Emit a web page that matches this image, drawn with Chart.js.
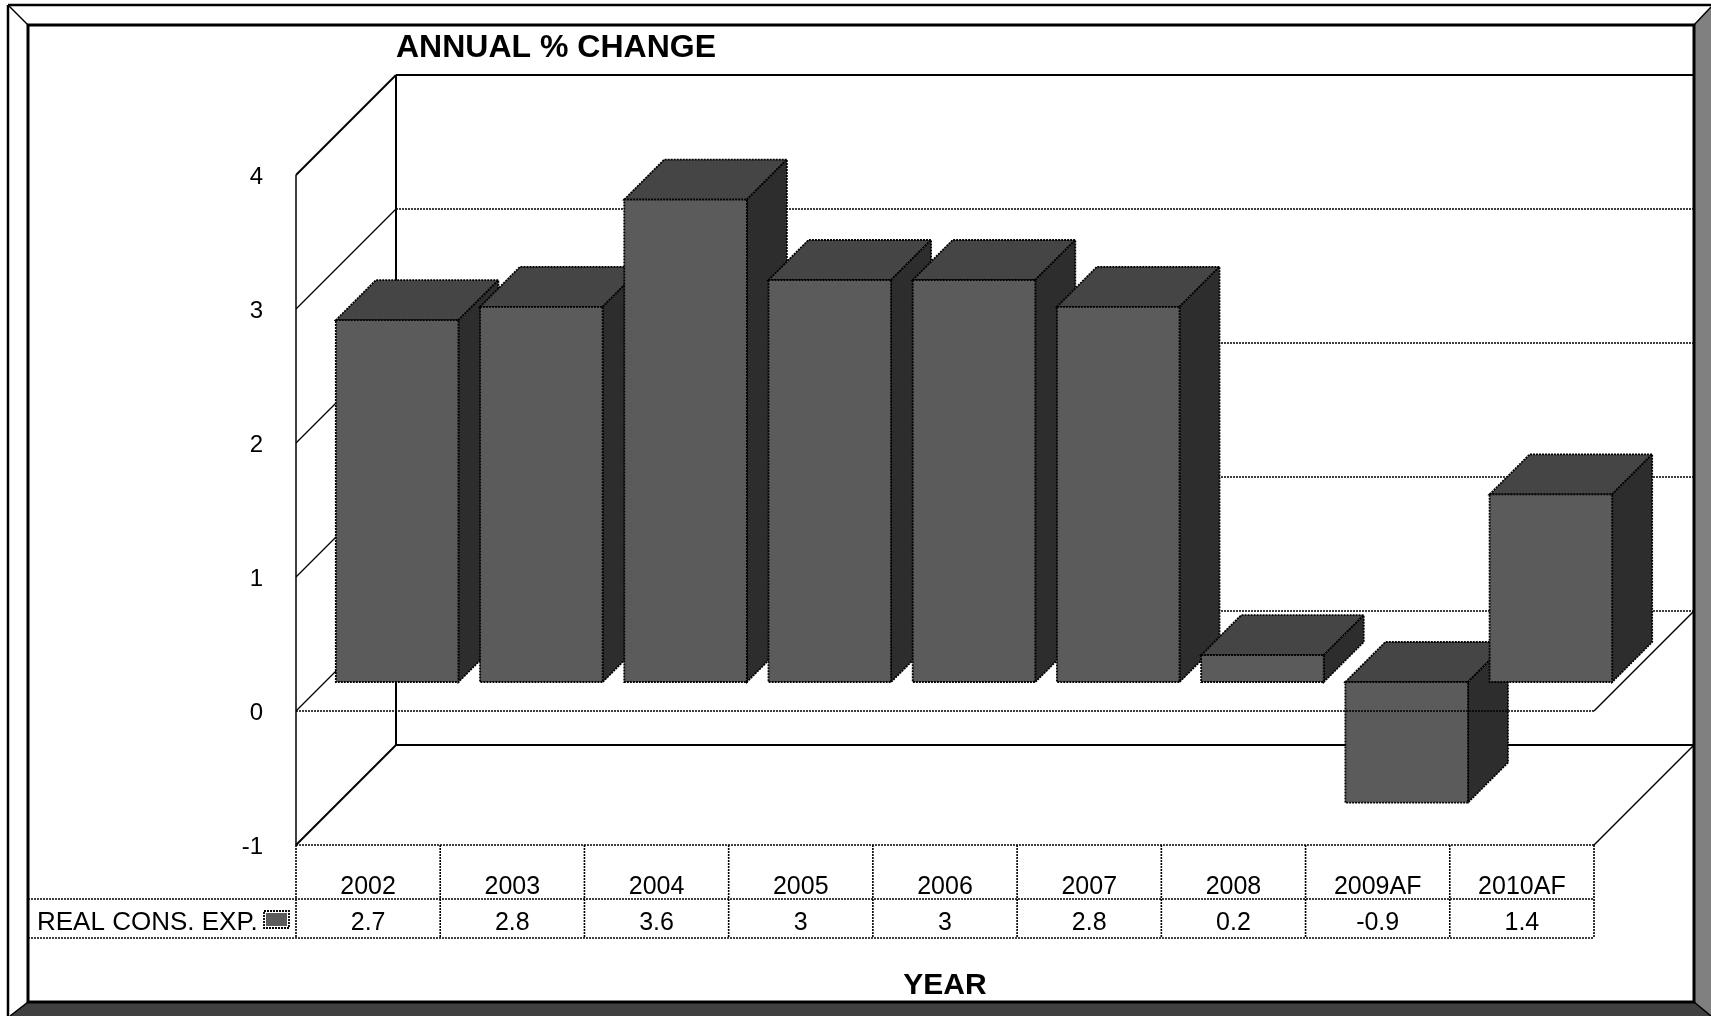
<!DOCTYPE html>
<html>
<head>
<meta charset="utf-8">
<title>Annual % change</title>
<script src="https://cdn.jsdelivr.net/npm/chart.js@4.4.0/dist/chart.umd.min.js"></script>
<style>
  html, body { margin: 0; padding: 0; background: #fff; }
  #wrap { width: 1711px; height: 1016px; }
</style>
</head>
<body>
<div id="wrap"><canvas id="myChart" width="1711" height="1016"></canvas></div>
<script>
const years = ["2002", "2003", "2004", "2005", "2006", "2007", "2008", "2009AF", "2010AF"];
const realConsExp = [2.7, 2.8, 3.6, 3, 3, 2.8, 0.2, -0.9, 1.4];
const seriesName = "REAL CONS. EXP.";
const yMin = -1;
const yMax = 4;
const yStep = 1;
const chartTitle = "ANNUAL % CHANGE";
const xTitle = "YEAR";

// 3D box: depth of walls, where the bars sit inside it and how thick they are
const DEPTH = 100;
const BAR_OFFSET = 29;
const BAR_DEPTH = 40;

const FONT = '"Liberation Sans", Arial, sans-serif';
const FRONT = '#5b5b5b';
const TOP = '#454545';
const SIDE = '#2d2d2d';

function line(ctx, x1, y1, x2, y2, dotted, w) {
    ctx.save();
    ctx.beginPath();
    ctx.lineWidth = w || 1.5;
    ctx.strokeStyle = '#000';
    ctx.setLineDash(dotted ? [2, 1] : []);
    ctx.moveTo(x1, y1);
    ctx.lineTo(x2, y2);
    ctx.stroke();
    ctx.restore();
}

function poly(ctx, pts, fill) {
    ctx.save();
    ctx.beginPath();
    pts.forEach((p, i) => i ? ctx.lineTo(p[0], p[1]) : ctx.moveTo(p[0], p[1]));
    ctx.closePath();
    if (fill) {
        ctx.fillStyle = fill;
        ctx.fill();
    }
    ctx.lineWidth = 1.8;
    ctx.setLineDash([2, 1]);
    ctx.strokeStyle = '#000';
    ctx.stroke();
    ctx.restore();
}

// front plane of the box = bar plane moved forward by BAR_OFFSET
function plane(chart) {
    const xs = chart.scales.x, ys = chart.scales.y, a = chart.chartArea;
    let ticks = ys.ticks.map(t => t.value);
    if (!ticks.length) {
        for (let v = yMin; v <= yMax; v += yStep) ticks.push(v);
    }
    return {
        xs, ys, ticks,
        L: a.left - BAR_OFFSET,
        R: a.right - BAR_OFFSET,
        y: v => ys.getPixelForValue(v) + BAR_OFFSET,
        cx: i => xs.getPixelForValue(i) - BAR_OFFSET,
        half: (xs.getPixelForValue(1) - xs.getPixelForValue(0)) / 2
    };
}

function barBox(bar) {
    const b = bar.getProps(['x', 'y', 'base', 'width'], true);
    return {
        l: b.x - b.width / 2,
        r: b.x + b.width / 2,
        hi: Math.min(b.y, b.base),
        lo: Math.max(b.y, b.base)
    };
}

const box3d = {
    id: 'box3d',
    beforeDraw(chart) {
        // bevelled outer frame
        const ctx = chart.ctx, W = chart.width, H = chart.height;
        const ol = 8, ot = 5, il = 28, it = 25, ir = W - 17, ib = H - 14;
        ctx.save();
        ctx.fillStyle = '#fff';
        ctx.fillRect(0, 0, W, H);
        ctx.fillStyle = '#808080';
        ctx.beginPath();
        ctx.moveTo(ir, it); ctx.lineTo(W, ot + 2); ctx.lineTo(W, H); ctx.lineTo(ir, ib);
        ctx.closePath(); ctx.fill();
        ctx.fillStyle = '#404040';
        ctx.beginPath();
        ctx.moveTo(ol + 2, H); ctx.lineTo(il, ib); ctx.lineTo(ir, ib); ctx.lineTo(W, H);
        ctx.closePath(); ctx.fill();
        ctx.restore();
        line(ctx, ol, ot, W, ot, false, 2.5);
        line(ctx, ol, ot, ol, H, false, 2.5);
        line(ctx, ol, ot, il, it, false, 1.5);
        line(ctx, ir, it, W, ot + 2, false, 1.5);
        line(ctx, il, ib, ol + 2, H, false, 1.5);
        line(ctx, ir, ib, W, H, false, 1.5);
        ctx.save();
        ctx.lineWidth = 3;
        ctx.strokeStyle = '#000';
        ctx.strokeRect(il, it, ir - il, ib - it);
        ctx.restore();
    },
    beforeDatasetsDraw(chart) {
        const ctx = chart.ctx, p = plane(chart), D = DEPTH;
        const L = p.L, R = p.R;
        const yTop = p.y(yMax), yBot = p.y(yMin);

        // side wall diagonals and back wall gridlines
        p.ticks.forEach(v => {
            const y = p.y(v);
            const edge = v === yMax || v === yMin;
            line(ctx, L, y, L + D, y - D, false, edge ? 2 : 1.3);
            line(ctx, L + D, y - D, R + D, y - D, !edge, edge ? 2.2 : 1.5);
        });
        line(ctx, L + D, yTop - D, L + D, yBot - D, false, 2);
        line(ctx, L, yTop, L, yBot, false, 1.5);
        line(ctx, R + D, yTop - D, R + D, yBot - D, true, 1.3);
        // floor right edge
        line(ctx, R, yBot, R + D, yBot - D, false, 1.5);

        // top and side faces, left to right
        const d = BAR_DEPTH;
        chart.getDatasetMeta(0).data.forEach(bar => {
            const b = barBox(bar);
            poly(ctx, [[b.l, b.hi], [b.l + d, b.hi - d], [b.r + d, b.hi - d], [b.r, b.hi]], TOP);
            poly(ctx, [[b.r, b.hi], [b.r + d, b.hi - d], [b.r + d, b.lo - d], [b.r, b.lo]], SIDE);
        });
    },
    afterDatasetsDraw(chart) {
        const ctx = chart.ctx, p = plane(chart), D = DEPTH;
        const L = p.L, R = p.R;
        const yTop = p.y(yMax), yBot = p.y(yMin), y0 = p.y(0);

        // dotted outline of the front faces
        chart.getDatasetMeta(0).data.forEach(bar => {
            const b = barBox(bar);
            poly(ctx, [[b.l, b.hi], [b.r, b.hi], [b.r, b.lo], [b.l, b.lo]], null);
        });

        // zero plane
        line(ctx, L, y0, R, y0, true, 1.6);
        line(ctx, R, y0, R + D, y0 - D, false, 1.5);

        // value axis labels
        ctx.save();
        ctx.fillStyle = '#000';
        ctx.font = '24px ' + FONT;
        ctx.textAlign = 'right';
        ctx.textBaseline = 'middle';
        p.ticks.forEach(v => ctx.fillText(String(v), L - 33, p.y(v) + 2));
        ctx.restore();

        // data table under the floor
        const r1 = yBot + 54, r2 = yBot + 93;
        line(ctx, L, yBot, R, yBot, true, 1.6);
        line(ctx, 28, r1, R, r1, true, 1.6);
        line(ctx, 28, r2, R, r2, true, 1.6);
        for (let i = 0; i <= years.length; i++) {
            const x = i < years.length ? p.cx(i) - p.half : p.cx(i - 1) + p.half;
            line(ctx, x, yBot, x, r2, true, 1.6);
        }
        ctx.save();
        ctx.fillStyle = '#000';
        ctx.font = '25px ' + FONT;
        ctx.textAlign = 'center';
        ctx.textBaseline = 'alphabetic';
        years.forEach((yr, i) => {
            ctx.fillText(yr, p.cx(i), r1 - 5);
            ctx.fillText(String(realConsExp[i]), p.cx(i), r2 - 8);
        });
        ctx.font = '26px ' + FONT;
        ctx.textAlign = 'left';
        ctx.fillText(seriesName, 37, r2 - 8);
        ctx.restore();
        // legend key
        ctx.save();
        ctx.fillStyle = FRONT;
        ctx.fillRect(L - 30, r1 + 14, 21, 13);
        ctx.restore();
        poly(ctx, [[L - 32, r1 + 12], [L - 7, r1 + 12], [L - 7, r1 + 29], [L - 32, r1 + 29]], null);

        // titles
        ctx.save();
        ctx.fillStyle = '#000';
        ctx.font = 'bold 32px ' + FONT;
        ctx.textAlign = 'left';
        ctx.fillText(chartTitle, L + D, yTop - D - 18);
        ctx.font = 'bold 30px ' + FONT;
        ctx.textAlign = 'center';
        ctx.fillText(xTitle, (L + R) / 2, yBot + 149);
        ctx.restore();
    }
};

const ctx = document.getElementById('myChart');

const chart = new Chart(ctx, {
    type: 'bar',
    data: {
        labels: years,
        datasets: [{
            label: seriesName,
            data: realConsExp,
            backgroundColor: FRONT,
            borderWidth: 0,
            barPercentage: 0.85,
            categoryPercentage: 1
        }]
    },
    options: {
        responsive: false,
        animation: false,
        devicePixelRatio: 1,
        layout: { padding: { left: 325, right: 88, top: 146, bottom: 200 } },
        scales: {
            x: { display: false },
            y: { display: false, min: yMin, max: yMax, ticks: { stepSize: yStep } }
        },
        plugins: {
            legend: { display: false },
            title: { display: false },
            tooltip: { enabled: false }
        }
    },
    plugins: [box3d]
});
</script>
</body>
</html>
